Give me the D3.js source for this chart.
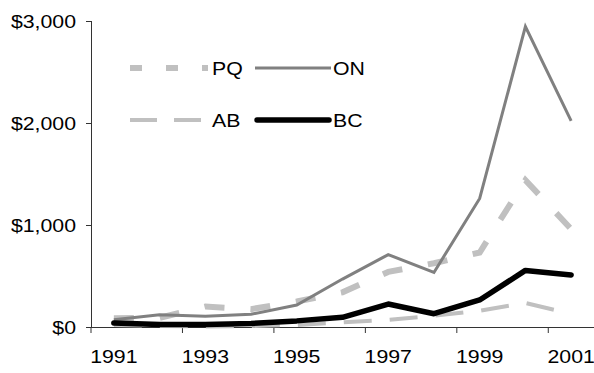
<!DOCTYPE html>
<html>
<head>
<meta charset="utf-8">
<script src="https://cdn.jsdelivr.net/npm/d3@7"></script>
<style>
  body { margin: 0; background: #fff; }
  text { font-family: "Liberation Sans", Arial, sans-serif; fill: #000; }
</style>
</head>
<body>
<svg width="594" height="373"></svg>
<script>
// values, in $ per year
var years = ["1991", "1992", "1993", "1994", "1995", "1996", "1997", "1998", "1999", "2000", "2001"];
var pq = [85, 90, 200, 175, 250, 340, 540, 625, 730, 1440, 960];
var on = [70, 120, 105, 125, 215, 470, 710, 535, 1260, 2945, 2020];
var ab = [20, 10, 5, 10, 20, 45, 70, 110, 160, 235, 130];
var bc = [40, 25, 25, 35, 60, 95, 225, 130, 265, 555, 510];
var yTicks = [0, 1000, 2000, 3000];
var xLabels = ["1991", "1993", "1995", "1997", "1999", "2001"];

var series = [
    { name: "PQ", values: pq, color: "#c0c0c0", width: 6, dash: "20,26", legDash: "12,24", cap: "butt" },
    { name: "ON", values: on, color: "#808080", width: 3, dash: null, legDash: null, cap: "butt" },
    { name: "AB", values: ab, color: "#c0c0c0", width: 4, dash: "28,18", legDash: "27,17", cap: "butt" },
    { name: "BC", values: bc, color: "#000000", width: 5.5, dash: null, legDash: null, cap: "round" }
];

var plotLeft = 91, plotRight = 594, plotTop = 21, plotBottom = 327;
var fontSize = 19, stretch = 1.12;

var svg = d3.select("svg");

var x = d3.scaleBand().domain(years).range([plotLeft, plotRight]);
var y = d3.scaleLinear().domain([0, 3000]).range([plotBottom, plotTop]);

function widen(sel) {
    sel.each(function () {
        var w = this.getComputedTextLength();
        d3.select(this).attr("textLength", w * stretch).attr("lengthAdjust", "spacingAndGlyphs");
    });
}

// y axis
var yAxis = svg.append("g")
    .attr("transform", "translate(" + plotLeft + ",0)")
    .call(d3.axisLeft(y).tickValues(yTicks).tickSize(5).tickPadding(10)
        .tickFormat(function (d) { return "$" + d3.format(",")(d); }));
yAxis.select(".domain").attr("stroke", "#333").attr("d", "M0.5," + plotTop + "V" + plotBottom);
yAxis.selectAll(".tick line").attr("stroke", "#333");
yAxis.selectAll("text").style("font-size", fontSize + "px").call(widen);

// x axis: labels on odd years, tick marks on category edges
var xAxis = svg.append("g")
    .attr("transform", "translate(0," + plotBottom + ")")
    .call(d3.axisBottom(x).tickValues(xLabels).tickSize(0).tickPadding(23));
xAxis.select(".domain").remove();
xAxis.selectAll("text").style("font-size", fontSize + "px").call(widen);

var xTickMarks = svg.append("g")
    .attr("transform", "translate(" + (-x.bandwidth() / 2) + "," + plotBottom + ")")
    .call(d3.axisBottom(x).tickValues(xLabels).tickSize(6).tickFormat(""));
xTickMarks.select(".domain").remove();
xTickMarks.selectAll(".tick line").attr("stroke", "#333");

svg.append("line")
    .attr("x1", plotLeft).attr("x2", plotRight)
    .attr("y1", plotBottom + 0.5).attr("y2", plotBottom + 0.5)
    .attr("stroke", "#333");

// lines
var line = d3.line()
    .x(function (d, i) { return x(years[i]) + x.bandwidth() / 2; })
    .y(function (d) { return y(d); });

svg.selectAll("path.series")
    .data(series)
    .enter().append("path")
    .attr("class", "series")
    .attr("fill", "none")
    .attr("stroke", function (d) { return d.color; })
    .attr("stroke-width", function (d) { return d.width; })
    .attr("stroke-dasharray", function (d) { return d.dash; })
    .attr("stroke-linecap", function (d) { return d.cap; })
    .attr("stroke-linejoin", function (d) { return d.name == "BC" ? "round" : "miter"; })
    .attr("d", function (d) { return line(d.values); });

// legend, two columns
var legPos = [
    { x1: 130, x2: 208, y: 68, tx: 212 },
    { x1: 255, x2: 331, y: 68, tx: 333 },
    { x1: 130, x2: 204, y: 120, tx: 212 },
    { x1: 257, x2: 329, y: 120, tx: 333 }
];

var leg = svg.selectAll("g.leg")
    .data(series)
    .enter().append("g")
    .attr("class", "leg");

leg.append("line")
    .attr("x1", function (d, i) { return legPos[i].x1; })
    .attr("x2", function (d, i) { return legPos[i].x2; })
    .attr("y1", function (d, i) { return legPos[i].y; })
    .attr("y2", function (d, i) { return legPos[i].y; })
    .attr("stroke", function (d) { return d.color; })
    .attr("stroke-width", function (d) { return d.width; })
    .attr("stroke-dasharray", function (d) { return d.legDash; })
    .attr("stroke-linecap", function (d) { return d.cap; });

leg.append("text")
    .attr("x", function (d, i) { return legPos[i].tx; })
    .attr("y", function (d, i) { return legPos[i].y; })
    .attr("dy", "0.35em")
    .style("font-size", fontSize + "px")
    .text(function (d) { return d.name; })
    .call(widen);
</script>
</body>
</html>
